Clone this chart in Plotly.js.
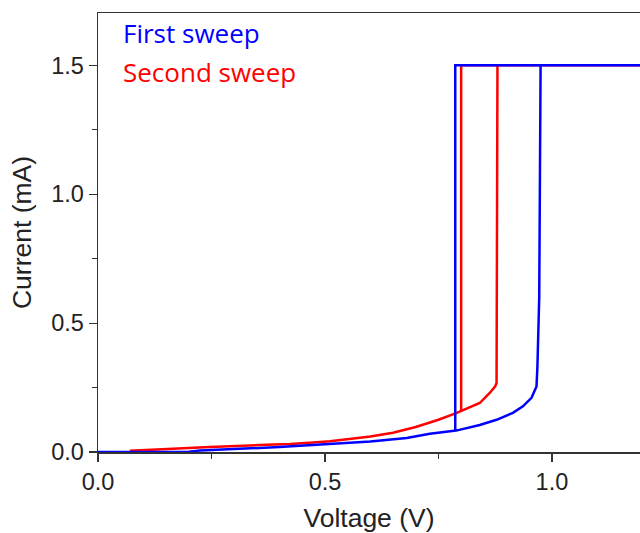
<!DOCTYPE html>
<html>
<head>
<meta charset="utf-8">
<script src="https://cdn.plot.ly/plotly-3.0.1.min.js"></script>
<style>html,body{margin:0;padding:0;background:#fff;}#chart{width:640px;height:533px;}</style>
</head>
<body>
<div id="chart"></div>
<script>
// First sweep (blue): forward, set jump, compliance, reset drop
var firstV = [0.0, 0.10, 0.20, 0.225, 0.30, 0.342, 0.40, 0.445, 0.50, 0.577, 0.60, 0.68, 0.731, 0.789, 0.841, 0.878, 0.914, 0.936, 0.955, 0.966, 0.968, 0.972, 0.975, 1.25, 0.787, 0.787];
var firstI = [0.0, 0.0, 0.001, 0.006, 0.011, 0.014, 0.019, 0.024, 0.030, 0.037, 0.041, 0.054, 0.071, 0.083, 0.105, 0.125, 0.152, 0.177, 0.21, 0.254, 0.33, 0.6, 1.5, 1.5, 1.5, 0.081];
// Second sweep (red)
var secondV = [0.07, 0.15, 0.247, 0.37, 0.423, 0.474, 0.511, 0.577, 0.60, 0.65, 0.70, 0.75, 0.789, 0.841, 0.863, 0.875, 0.878, 0.880, 1.25, 0.800, 0.800];
var secondI = [0.005, 0.012, 0.019, 0.028, 0.031, 0.037, 0.042, 0.055, 0.060, 0.075, 0.097, 0.125, 0.151, 0.19, 0.229, 0.255, 0.268, 1.5, 1.5, 1.5, 0.155];
var seriesNames = ["First sweep", "Second sweep"];
var seriesColors = ["#0000ff", "#ff0000"];
var xTicks = [0, 0.5, 1.0];
var xTickText = ["0.0", "0.5", "1.0"];
var yTicks = [0, 0.5, 1.0, 1.5];
var yTickText = ["0.0", "0.5", "1.0", "1.5"];

var traces = [
  {x: secondV, y: secondI, mode: "lines", line: {color: seriesColors[1], width: 2.5}, name: seriesNames[1], showlegend: false},
  {x: firstV, y: firstI, mode: "lines", line: {color: seriesColors[0], width: 2.5}, name: seriesNames[0], showlegend: false}
];

var axisFont = {family: "Liberation Sans, Arial, sans-serif", size: 23.5, color: "#222"};
var titleFont = {family: "Liberation Sans, Arial, sans-serif", size: 26.5, color: "#222"};
var layout = {
  width: 640, height: 533,
  margin: {l: 98, r: 0, t: 13, b: 81},
  paper_bgcolor: "#fff", plot_bgcolor: "#fff",
  showlegend: false,
  xaxis: {
    range: [0, 1.194], showgrid: false, zeroline: false,
    showline: true, mirror: true, linecolor: "#333", linewidth: 1.5,
    tickmode: "array", tickvals: xTicks, ticktext: xTickText,
    ticks: "outside", ticklen: 8, tickwidth: 1.2, tickcolor: "#333",
    minor: {tickvals: [0.25, 0.75], ticks: "outside", ticklen: 5, tickwidth: 1.2, tickcolor: "#333"},
    tickfont: axisFont,
    title: {text: "Voltage (V)", font: titleFont, standoff: 14}
  },
  yaxis: {
    range: [0, 1.703], showgrid: false, zeroline: false,
    showline: true, mirror: false, linecolor: "#333", linewidth: 1.5,
    tickmode: "array", tickvals: yTicks, ticktext: yTickText,
    ticks: "outside", ticklen: 8, tickwidth: 1.2, tickcolor: "#333",
    minor: {tickvals: [0.25, 0.75, 1.25], ticks: "outside", ticklen: 5, tickwidth: 1.2, tickcolor: "#333"},
    tickfont: axisFont,
    title: {text: "Current (mA)", font: titleFont, standoff: 12}
  },
  annotations: [
    {xref: "paper", yref: "paper", x: 0.042, y: 0.955, xanchor: "left", yanchor: "middle", showarrow: false,
     text: seriesNames[0], font: {family: "Open Sans, sans-serif", size: 26, color: seriesColors[0]}},
    {xref: "paper", yref: "paper", x: 0.042, y: 0.866, xanchor: "left", yanchor: "middle", showarrow: false,
     text: seriesNames[1], font: {family: "Open Sans, sans-serif", size: 26, color: seriesColors[1]}}
  ]
};
Plotly.newPlot("chart", traces, layout, {displayModeBar: false, staticPlot: true});
</script>
</body>
</html>
